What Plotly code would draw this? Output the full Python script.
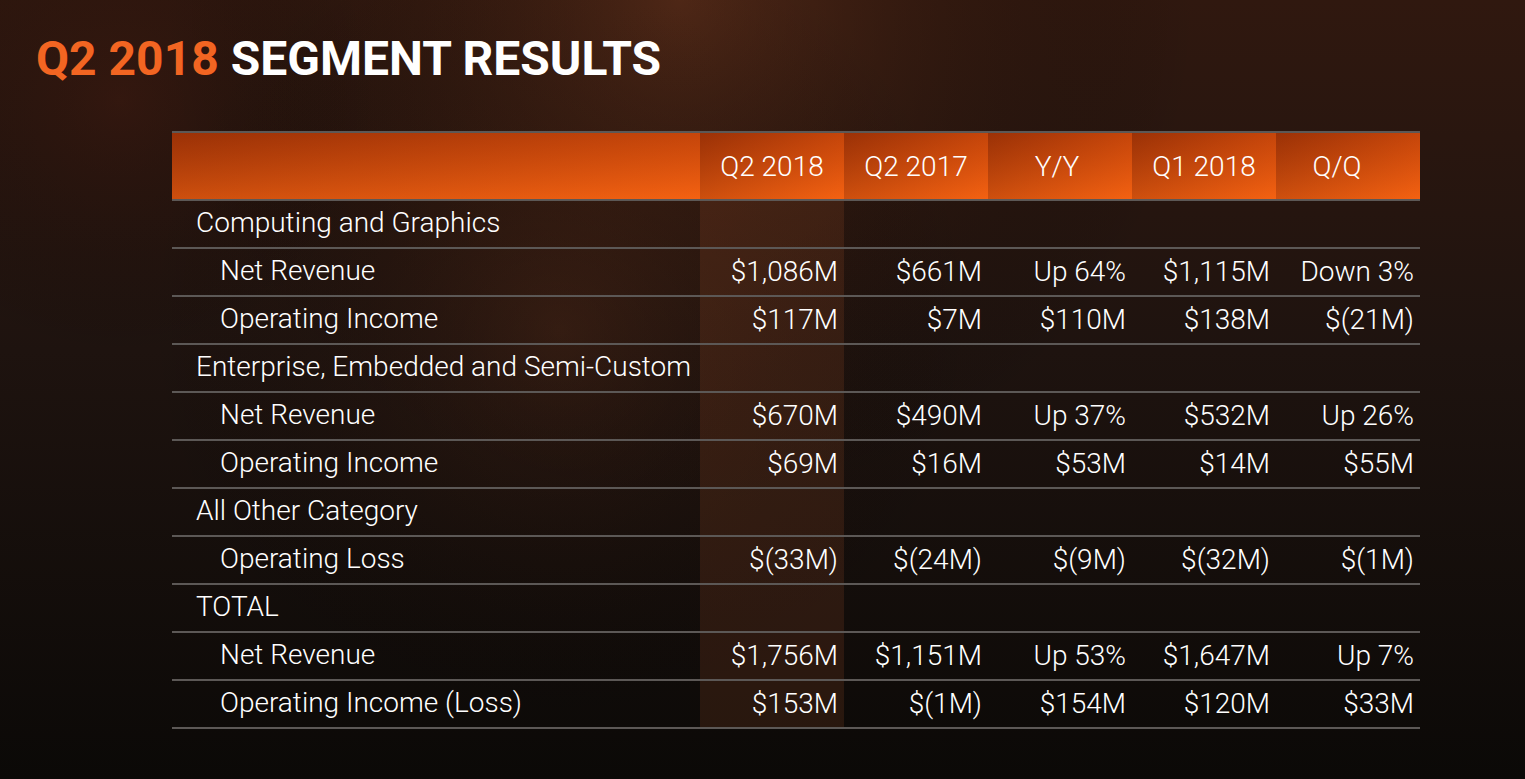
import plotly.graph_objects as go

# ---- table content ----
row_labels = ["Computing and Graphics", "Net Revenue", "Operating Income",
              "Enterprise, Embedded and Semi-Custom", "Net Revenue", "Operating Income",
              "All Other Category", "Operating Loss",
              "TOTAL", "Net Revenue", "Operating Income (Loss)"]
row_indent = [0, 1, 1, 0, 1, 1, 0, 1, 0, 1, 1]

col_headers = ["Q2 2018", "Q2 2017", "Y/Y", "Q1 2018", "Q/Q"]
q2_2018 = ["", "$1,086M", "$117M", "", "$670M", "$69M", "", "$(33M)", "", "$1,756M", "$153M"]
q2_2017 = ["", "$661M", "$7M", "", "$490M", "$16M", "", "$(24M)", "", "$1,151M", "$(1M)"]
yy_change = ["", "Up 64%", "$110M", "", "Up 37%", "$53M", "", "$(9M)", "", "Up 53%", "$154M"]
q1_2018 = ["", "$1,115M", "$138M", "", "$532M", "$14M", "", "$(32M)", "", "$1,647M", "$120M"]
qq_change = ["", "Down 3%", "$(21M)", "", "Up 26%", "$55M", "", "$(1M)", "", "Up 7%", "$33M"]
columns = [q2_2018, q2_2017, yy_change, q1_2018, qq_change]

# ---- layout geometry (pixel space) ----
W, H = 1525, 779
TABLE_L, TABLE_R = 172, 1420
LABEL_R = 700
COL_W = 144
HEAD_T, HEAD_B = 132, 200
ROW_H = 48
FONT = "Roboto, sans-serif"
ORANGE = "#f26522"
LINE = "#5c5856"

n_rows = len(row_labels)
table_b = HEAD_B + n_rows * ROW_H


def col_left(i):
    return LABEL_R + i * COL_W


def row_mid(j):
    return HEAD_B + j * ROW_H + ROW_H / 2


def box(x0, y0, x1, y1):
    return [x0, x1, x1, x0, x0], [y0, y0, y1, y1, y0]


fig = go.Figure()

# background: vertical dark brown -> black
bx, by = box(0, 0, W, H)
fig.add_trace(go.Scatter(
    x=bx, y=by, fill="toself", mode="none", hoverinfo="skip",
    fillgradient=dict(type="vertical", start=0, stop=H,
                      colorscale=[[0, "#30180f"], [0.45, "#1e130f"], [1, "#0b0907"]])))

# soft glows
for cx, cy, r, col in [(680, 0, 520, "rgba(110,55,30,0.55)"),
                       (560, 330, 420, "rgba(90,45,25,0.35)"),
                       (120, 100, 260, "rgba(70,25,15,0.30)")]:
    gx, gy = box(cx - r, cy - r, cx + r, cy + r)
    fig.add_trace(go.Scatter(
        x=gx, y=gy, fill="toself", mode="none", hoverinfo="skip",
        fillgradient=dict(type="radial",
                          colorscale=[[0, col], [1, "rgba(0,0,0,0)"]])))

# highlighted Q2 2018 column
hx, hy = box(col_left(0), HEAD_B, col_left(1), table_b)
fig.add_trace(go.Scatter(
    x=hx, y=hy, fill="toself", mode="none", hoverinfo="skip",
    fillcolor="rgba(180,90,50,0.17)"))

# header cells with orange gradients
cells = [(TABLE_L, LABEL_R)] + [(col_left(i), col_left(i + 1)) for i in range(len(col_headers))]
for x0, x1 in cells:
    cx_, cy_ = box(x0, HEAD_T, x1, HEAD_B)
    fig.add_trace(go.Scatter(
        x=cx_, y=cy_, fill="toself", mode="none", hoverinfo="skip",
        fillgradient=dict(type="horizontal", start=x0, stop=x1,
                          colorscale=[[0, "#ad3b0a"], [1, "#ee5a10"]])))
    fig.add_trace(go.Scatter(
        x=cx_, y=cy_, fill="toself", mode="none", hoverinfo="skip",
        fillgradient=dict(type="vertical", start=HEAD_T, stop=HEAD_B,
                          colorscale=[[0, "rgba(120,30,0,0.35)"], [1, "rgba(255,110,20,0.40)"]])))

# horizontal rules
rule_y = [HEAD_T, HEAD_B] + [HEAD_B + (j + 1) * ROW_H for j in range(n_rows)]
for yv in rule_y:
    fig.add_trace(go.Scatter(
        x=[TABLE_L, TABLE_R], y=[yv, yv], mode="lines", hoverinfo="skip",
        line=dict(color=LINE, width=2)))

TXT = dict(family=FONT, size=28, color="#ffffff", weight=300)

# header text (Q/Q sits a little left of centre on the slide)
head_shift = [0, 0, -3, 0, -11]
fig.add_trace(go.Scatter(
    x=[col_left(i) + COL_W / 2 + head_shift[i] for i in range(len(col_headers))],
    y=[(HEAD_T + HEAD_B) / 2 + 3] * len(col_headers),
    text=col_headers, mode="text", textposition="middle center", hoverinfo="skip",
    textfont=TXT))

# row labels
fig.add_trace(go.Scatter(
    x=[196 + 24 * k for k in row_indent],
    y=[row_mid(j) + 1 for j in range(n_rows)],
    text=row_labels, mode="text", textposition="middle right", hoverinfo="skip",
    textfont=TXT))

# values, right aligned in each column
for i, vals in enumerate(columns):
    fig.add_trace(go.Scatter(
        x=[col_left(i + 1) - 6] * n_rows,
        y=[row_mid(j) + 2 for j in range(n_rows)],
        text=vals, mode="text", textposition="middle left", hoverinfo="skip",
        textfont=TXT))

# slide title
fig.add_annotation(
    x=34, y=58, xref="x", yref="y", xanchor="left", yanchor="middle", showarrow=False,
    text=f"<b><span style='color:{ORANGE}'>Q2 2018</span> SEGMENT RESULTS</b>",
    font=dict(family=FONT, size=48, color="#ffffff"))

fig.update_layout(
    width=W, height=H, margin=dict(l=0, r=0, t=0, b=0),
    paper_bgcolor="#0b0907", plot_bgcolor="#0b0907", showlegend=False,
    xaxis=dict(range=[0, W], visible=False, fixedrange=True),
    yaxis=dict(range=[H, 0], visible=False, fixedrange=True))

fig.write_html("out.html", config={"displayModeBar": False},
               post_script="document.body.style.margin='0';")
